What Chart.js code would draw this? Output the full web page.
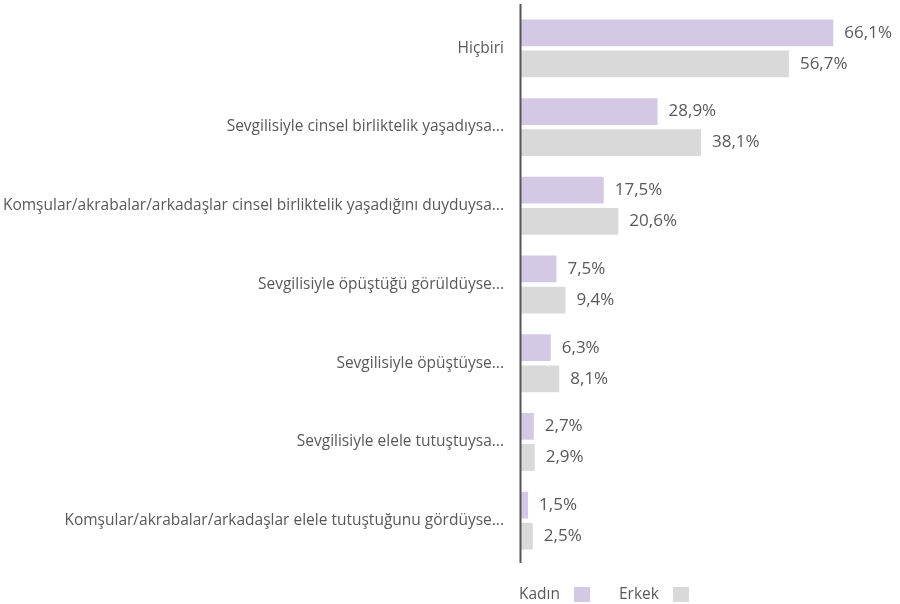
<!DOCTYPE html>
<html lang="tr">
<head>
<meta charset="utf-8">
<title>Chart</title>
<script src="https://cdn.jsdelivr.net/npm/chart.js@4"></script>
<style>
  html, body { margin: 0; padding: 0; background: #fff; }
  #wrap { width: 900px; height: 604px; position: relative; }
</style>
</head>
<body>
<div id="wrap"><canvas id="chart"></canvas></div>
<script>
const categories = [
  "Hiçbiri",
  "Sevgilisiyle cinsel birliktelik yaşadıysa...",
  "Komşular/akrabalar/arkadaşlar cinsel birliktelik yaşadığını duyduysa...",
  "Sevgilisiyle öpüştüğü görüldüyse...",
  "Sevgilisiyle öpüştüyse...",
  "Sevgilisiyle elele tutuştuysa...",
  "Komşular/akrabalar/arkadaşlar elele tutuştuğunu gördüyse..."
];
const kadin = [66.1, 28.9, 17.5, 7.5, 6.3, 2.7, 1.5];
const erkek = [56.7, 38.1, 20.6, 9.4, 8.1, 2.9, 2.5];

const textColor = "#595959";
const fontFamily = "'Open Sans', sans-serif";

// value labels to the right of each bar
const valueLabels = {
  id: "valueLabels",
  afterDatasetsDraw(chart) {
    const ctx = chart.ctx;
    ctx.save();
    ctx.font = "17px " + fontFamily;
    ctx.fillStyle = textColor;
    ctx.textAlign = "left";
    ctx.textBaseline = "middle";
    chart.data.datasets.forEach((ds, i) => {
      chart.getDatasetMeta(i).data.forEach((bar, j) => {
        const txt = ds.data[j].toFixed(1).replace(".", ",") + "%";
        ctx.fillText(txt, bar.x + 11, bar.y);
      });
    });
    ctx.restore();
  }
};

// vertical axis line, a bit longer than the plot area
const axisLine = {
  id: "axisLine",
  afterDatasetsDraw(chart) {
    const { ctx, chartArea } = chart;
    ctx.save();
    ctx.strokeStyle = "#55555a";
    ctx.lineWidth = 2;
    ctx.beginPath();
    ctx.moveTo(chartArea.left - 0.5, chartArea.top - 5);
    ctx.lineTo(chartArea.left - 0.5, chartArea.bottom + 3);
    ctx.stroke();
    ctx.restore();
  }
};

// legend: text first, swatch after it
const textLegend = {
  id: "textLegend",
  afterDraw(chart) {
    const ctx = chart.ctx;
    ctx.save();
    ctx.font = "15.5px " + fontFamily;
    ctx.textBaseline = "middle";
    ctx.textAlign = "left";
    let x = 519;
    const y = 595;
    chart.data.datasets.forEach(ds => {
      ctx.fillStyle = textColor;
      ctx.fillText(ds.label, x, y);
      x += ctx.measureText(ds.label).width + 14;
      ctx.fillStyle = ds.backgroundColor;
      ctx.fillRect(x, y - 8, 16, 15);
      x += 16 + 29;
    });
    ctx.restore();
  }
};

new Chart(document.getElementById("chart"), {
  type: "bar",
  data: {
    labels: categories,
    datasets: [
      { label: "Kadın", data: kadin, backgroundColor: "#d3c9e4" },
      { label: "Erkek", data: erkek, backgroundColor: "#d9d9d9" }
    ]
  },
  options: {
    indexAxis: "y",
    responsive: true,
    maintainAspectRatio: false,
    animation: false,
    categoryPercentage: 0.79,
    barPercentage: 0.86,
    layout: { padding: { top: 9, bottom: 44, left: 0, right: 1 } },
    plugins: {
      legend: { display: false },
      tooltip: { enabled: false }
    },
    scales: {
      x: { display: false, min: 0, max: 80 },
      y: {
        grid: { display: false, drawTicks: false },
        border: { display: false },
        ticks: {
          color: textColor,
          padding: 17,
          font: { family: fontFamily, size: 15.5 }
        },
        afterFit(scale) {
          scale.width = 521;
          scale.paddingTop = 0;
          scale.paddingBottom = 0;
        }
      }
    }
  },
  plugins: [valueLabels, axisLine, textLegend]
});
</script>
</body>
</html>
